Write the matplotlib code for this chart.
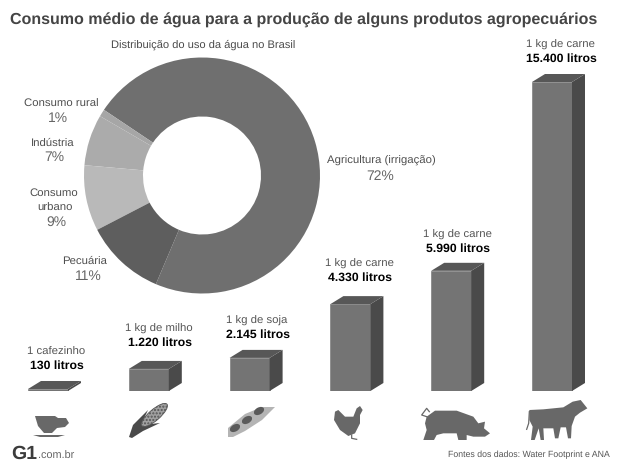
import matplotlib
matplotlib.use('Agg')
import matplotlib.pyplot as plt
from matplotlib.patches import Polygon, Ellipse

plt.rcParams['font.family'] = ['Liberation Sans', 'DejaVu Sans']
plt.rcParams['text.hinting'] = 'none'

# donut data
use_labels = ['Agricultura (irrigação)', 'Consumo rural', 'Indústria', 'Consumo urbano', 'Pecuária']
use_pct = [72, 1, 7, 9, 11]
use_colors = ['#6f6f6f', '#a6a6a6', '#ababab', '#b9b9b9', '#5e5e5e']

# bars: what the label says and the height as drawn (soy and corn are drawn shorter than their label)
bar_products = ['1 cafezinho', '1 kg de milho', '1 kg de soja', '1 kg de carne', '1 kg de carne', '1 kg de carne']
bar_labels = ['130 litros', '1.220 litros', '2.145 litros', '4.330 litros', '5.990 litros', '15.400 litros']
bar_drawn = [100, 1100, 1650, 4330, 5990, 15400]

FRONT = '#747474'
SIDE = '#4a4a4a'
TOP = '#575757'
ICON = '#686868'

fig = plt.figure(figsize=(6.2, 4.65), dpi=100, facecolor='white')

# overlay in image pixels for text and icons
ov = fig.add_axes([0, 0, 1, 1], zorder=3)
ov.set_xlim(0, 620)
ov.set_ylim(465, 0)
ov.axis('off')
ov.patch.set_alpha(0)

# ── donut ──
ax_pie = fig.add_axes([84 / 620, (465 - 293.5) / 465, 236 / 620, 236 / 465])
ax_pie.pie(use_pct, colors=use_colors, startangle=-113, counterclock=True, radius=1,
           wedgeprops={'width': 0.5, 'linewidth': 0})
ax_pie.set_xlim(-1, 1)
ax_pie.set_ylim(-1, 1)

# ── bars ──
spacing = 100.8
ax_bar = fig.add_axes([0, (465 - 391) / 465, 1, 309 / 465])
ax_bar.set_xlim(-48 / spacing, (620 - 48) / spacing)
ax_bar.set_ylim(0, 15400)
ax_bar.axis('off')
ax_bar.patch.set_alpha(0)

xs = list(range(len(bar_drawn)))
w = 40 / spacing
dx = 13 / spacing
dy = 8 * 15400 / 309
ax_bar.bar(xs, bar_drawn, width=w, color=FRONT, edgecolor='#8a8a8a', linewidth=0.6)
for x, h in zip(xs, bar_drawn):
    l, r = x - w / 2, x + w / 2
    ax_bar.add_patch(Polygon([(r, 0), (r + dx, dy), (r + dx, h + dy), (r, h)], color=SIDE, lw=0, clip_on=False))
    ax_bar.add_patch(Polygon([(l, h), (l + dx, h + dy), (r + dx, h + dy), (r, h)], color=TOP, lw=0, clip_on=False))

# ── texts ──
ov.text(10, 20, 'Consumo médio de água para a produção de alguns produtos agropecuários',
        fontsize=11.5, fontweight='bold', color='#454545', ha='left', va='center')
ov.text(203, 45, 'Distribuição do uso da água no Brasil', fontsize=8.0, color='#4a4a4a', ha='center', va='center')


def label(x, y, s, color='#4f4f4f', size=8.2, weight='normal'):
    ov.text(x, y, s, fontsize=size, color=color, fontweight=weight, ha='center', va='center')


PCT = '#666666'
label(61, 104, use_labels[1])
label(58, 118, f'{use_pct[1]}%', PCT, 10)
label(53, 143, use_labels[2])
label(54, 157, f'{use_pct[2]}%', PCT, 10)
label(54, 193, 'Consumo')
label(55, 208, 'urbano')
label(56, 222, f'{use_pct[3]}%', PCT, 10)
label(85, 261, use_labels[4])
label(88, 276, f'{use_pct[4]}%', PCT, 10)
label(381, 161, use_labels[0])
label(380, 176, f'{use_pct[0]}%', PCT, 10)

label_x = [56, 159, 257, 359, 457, 560]
label_y = [352, 329, 321, 264, 235, 45]
for lx, ly, p, b in zip(label_x, label_y, bar_products, bar_labels):
    label(lx, ly, p, '#555555', 8.2)
    label(lx + 1, ly + 14, b, '#000000', 8.8, 'bold')

# ── footer ──
ov.text(11, 454, 'G1', fontsize=14, fontweight='bold', color='#3c3c3c', ha='left', va='center')
ov.text(38, 456, '.com.br', fontsize=7.8, color='#666666', ha='left', va='center')
ov.text(610, 455, 'Fontes dos dados: Water Footprint e ANA', fontsize=6.3, color='#555555', ha='right', va='center')


# ── icons (hand traced, decoration only) ──
def shape(pts, color=ICON):
    ov.add_patch(Polygon(pts, closed=True, color=color, lw=0))


# cup
shape([(35, 416), (55, 416), (58, 418), (66, 418), (69, 423), (65, 427), (57, 428), (52, 433), (44, 433), (38, 426)])
shape([(33, 435), (65, 435), (58, 437), (40, 437)])

# corn
shape([(129, 437), (133, 425), (148, 410), (141, 425), (160, 423), (143, 431), (132, 438)], '#4a4a4a')
ov.add_patch(Ellipse((154.5, 415), 33, 11, angle=-41, facecolor='#a0a0a0', edgecolor='#555555', lw=0.6,
                     hatch='.....'))

# soy pod
shape([(228, 437), (228, 428), (245, 414), (262, 407), (275, 407), (262, 420), (245, 431), (233, 437)], '#b4b4b4')
for cx, cy in [(235, 428), (247, 420), (259, 411)]:
    ov.add_patch(Ellipse((cx, cy), 11, 7, angle=-30, color='#5a5a5a', lw=0))


def z3(pts):
    # traced on the 3x crop that starts at (310, 220)
    return [(310 + a / 3, 220 + b / 3) for a, b in pts]


# chicken
shape(z3([(75, 575), (72, 600), (90, 630), (115, 648), (135, 640), (150, 610), (150, 585), (158, 570),
          (150, 558), (140, 565), (130, 590), (105, 590), (85, 570)]))
ov.plot(*zip(*z3([(125, 645), (125, 655), (140, 658)])), color=ICON, lw=0.9)

# pig
shape(z3([(350, 590), (375, 572), (440, 572), (490, 590), (505, 610), (525, 605), (522, 625), (540, 640),
          (525, 650), (490, 650), (470, 645), (470, 660), (445, 660), (440, 640), (400, 640), (380, 645),
          (372, 660), (340, 660), (350, 630), (345, 610)]))
ov.plot(*zip(*z3([(350, 590), (335, 585), (350, 565), (358, 575)])), color=ICON, lw=0.9)

# cow
shape(z3([(658, 570), (700, 568), (760, 562), (788, 545), (812, 540), (832, 565), (810, 578), (795, 590),
          (785, 618), (783, 655), (774, 655), (768, 622), (752, 622), (745, 655), (735, 655), (730, 625),
          (700, 625), (702, 660), (692, 660), (686, 625), (674, 660), (663, 660), (668, 620), (658, 600)]))
ov.plot(*zip(*z3([(658, 575), (656, 610), (650, 628)])), color=ICON, lw=0.9)

fig.savefig('out.png', dpi=100)
